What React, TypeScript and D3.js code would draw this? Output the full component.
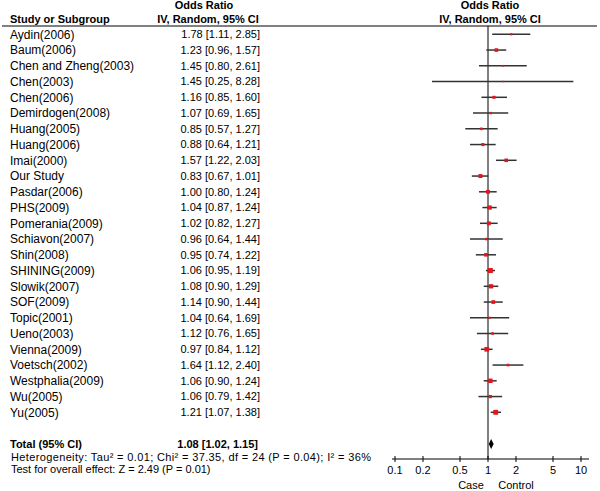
import React from "react";
import * as d3 from "d3";

const studies = [
  "Aydin(2006)", "Baum(2006)", "Chen and Zheng(2003)", "Chen(2003)", "Chen(2006)",
  "Demirdogen(2008)", "Huang(2005)", "Huang(2006)", "Imai(2000)", "Our Study",
  "Pasdar(2006)", "PHS(2009)", "Pomerania(2009)", "Schiavon(2007)", "Shin(2008)",
  "SHINING(2009)", "Slowik(2007)", "SOF(2009)", "Topic(2001)", "Ueno(2003)",
  "Vienna(2009)", "Voetsch(2002)", "Westphalia(2009)", "Wu(2005)", "Yu(2005)",
];
const oddsRatio = [1.78, 1.23, 1.45, 1.45, 1.16, 1.07, 0.85, 0.88, 1.57, 0.83, 1.0, 1.04, 1.02, 0.96, 0.95, 1.06, 1.08, 1.14, 1.04, 1.12, 0.97, 1.64, 1.06, 1.06, 1.21];
const lowerCI = [1.11, 0.96, 0.8, 0.25, 0.85, 0.69, 0.57, 0.64, 1.22, 0.67, 0.8, 0.87, 0.82, 0.64, 0.74, 0.95, 0.9, 0.9, 0.64, 0.76, 0.84, 1.12, 0.9, 0.79, 1.07];
const upperCI = [2.85, 1.57, 2.61, 8.28, 1.6, 1.65, 1.27, 1.21, 2.03, 1.01, 1.24, 1.24, 1.27, 1.44, 1.22, 1.19, 1.29, 1.44, 1.69, 1.65, 1.12, 2.4, 1.24, 1.42, 1.38];
const weights = [1.6, 4.3, 1.1, 0.1, 3.1, 1.9, 2.2, 3.1, 4.2, 5.3, 5.0, 6.2, 5.0, 2.1, 4.3, 8.4, 6.1, 4.6, 1.6, 2.3, 7.3, 2.3, 6.7, 3.5, 7.9];
const totalOR = [1.08, 1.02, 1.15];
const tickValues = [0.1, 0.2, 0.5, 1, 2, 5, 10];
const tickLabels = ["0.1", "0.2", "0.5", "1", "2", "5", "10"];

const fmt = (v: number) => v.toFixed(2);

export default function App() {
  const W = 600, H = 491;
  const x = d3.scaleLog().domain([0.1, 10]).range([395, 581]);
  const y = d3.scalePoint<string>().domain(studies).range([34.3, 412.3]);
  const size = d3.scaleSqrt().domain([0, 8.4]).range([0, 5]);
  const font = "'Liberation Sans', Arial, sans-serif";
  const axisY = 459;
  const totalY = 444;
  const clamp = (v: number) => Math.max(0.1, Math.min(10, v));
  const diamond = d3.line()([
    [x(totalOR[1]), totalY],
    [x(totalOR[0]), totalY - 5],
    [x(totalOR[2]), totalY],
    [x(totalOR[0]), totalY + 5],
  ]) + "Z";

  return (
    <svg width={W} height={H} style={{ position: "absolute", left: 0, top: 0, background: "#fff" }} fontFamily={font} fontSize={11}>
      <rect width={W} height={H} fill="#fff" />
      {/* headers */}
      <text x={204} y={5} dy="0.35em" textAnchor="middle" fontWeight="bold">Odds Ratio</text>
      <text x={208} y={19} dy="0.35em" textAnchor="middle" fontWeight="bold">IV, Random, 95% CI</text>
      <text x={10} y={19} dy="0.35em" fontWeight="bold">Study or Subgroup</text>
      <text x={490} y={5} dy="0.35em" textAnchor="middle" fontWeight="bold">Odds Ratio</text>
      <text x={490} y={19} dy="0.35em" textAnchor="middle" fontWeight="bold">IV, Random, 95% CI</text>
      <line x1={2} x2={597} y1={26} y2={26} stroke="#000" strokeWidth={1} />
      {/* null line */}
      <line x1={x(1)} x2={x(1)} y1={26} y2={axisY} stroke="#000" strokeWidth={1} />
      {/* rows */}
      {studies.map((s, i) => {
        const yy = y(s)!;
        const sz = Math.max(1.5, size(weights[i]));
        return (
          <g key={s}>
            <text x={10} y={yy} dy="0.35em" fontSize={12}>{s}</text>
            <text x={260} y={yy} dy="0.35em" textAnchor="end">{`${fmt(oddsRatio[i])} [${fmt(lowerCI[i])}, ${fmt(upperCI[i])}]`}</text>
            <line x1={x(clamp(lowerCI[i]))} x2={x(clamp(upperCI[i]))} y1={yy} y2={yy} stroke="#333" strokeWidth={1.5} />
            <rect x={x(oddsRatio[i]) - sz / 2} y={yy - sz / 2} width={sz} height={sz} fill="#e3161c" />
          </g>
        );
      })}
      {/* total */}
      <text x={10} y={totalY} dy="0.35em" fontWeight="bold">Total (95% CI)</text>
      <text x={258} y={totalY} dy="0.35em" textAnchor="end" fontWeight="bold">{`${fmt(totalOR[0])} [${fmt(totalOR[1])}, ${fmt(totalOR[2])}]`}</text>
      <path d={diamond} fill="#000" />
      <text x={11} y={457} dy="0.35em" textLength={360} lengthAdjust="spacing">Heterogeneity: Tau² = 0.01; Chi² = 37.35, df = 24 (P = 0.04); I² = 36%</text>
      <text x={11} y={469.5} dy="0.35em">Test for overall effect: Z = 2.49 (P = 0.01)</text>
      {/* axis */}
      <line x1={392} x2={589} y1={axisY} y2={axisY} stroke="#000" strokeWidth={1} />
      {tickValues.map((t, i) => (
        <g key={t}>
          <line x1={x(t)} x2={x(t)} y1={axisY - 3} y2={axisY + 3} stroke="#000" strokeWidth={1} />
          <text x={x(t)} y={470.5} dy="0.35em" textAnchor="middle">{tickLabels[i]}</text>
        </g>
      ))}
      <text x={471} y={485} dy="0.35em" textAnchor="middle">Case</text>
      <text x={516} y={485} dy="0.35em" textAnchor="middle">Control</text>
    </svg>
  );
}
